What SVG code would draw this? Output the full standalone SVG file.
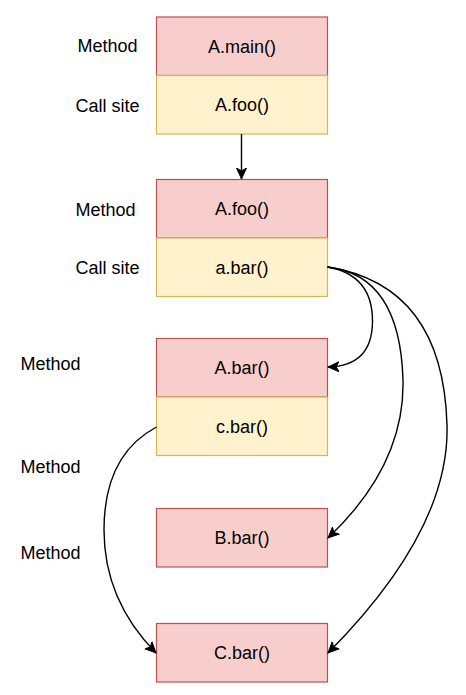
<svg xmlns="http://www.w3.org/2000/svg" width="466" height="695" viewBox="0 0 466 695">
<style>
.m{fill:#f8cecc;stroke:#b85450;stroke-width:1.2}
.c{fill:#fff2cc;stroke:#d6b656;stroke-width:1.2}
text{font-family:"Liberation Sans",Arial,sans-serif;font-size:18px;fill:#000}
.t{text-anchor:middle}
.e{fill:none;stroke:#000;stroke-width:1.4}
</style>
<defs>
<marker id="ah" markerUnits="userSpaceOnUse" markerWidth="12" markerHeight="12" viewBox="0 0 12 12" refX="11" refY="6" orient="auto">
<path d="M0,1 L11,6 L0,11 L3,6 z" fill="#000" stroke="#000" stroke-width="1"/>
</marker>
</defs>
<rect width="466" height="695" fill="#fff"/>
<g id="labels">
<text x="77.5" y="52">Method</text>
<text x="75.5" y="112">Call site</text>
<text x="75.5" y="216">Method</text>
<text x="75.5" y="274">Call site</text>
<text x="20.5" y="370">Method</text>
<text x="20.5" y="473">Method</text>
<text x="20.5" y="559">Method</text>
</g>
<g id="n1">
<rect class="m" x="156.5" y="17" width="171" height="58.5"/>
<text class="t" x="242" y="52.5">A.main()</text>
<rect class="c" x="156.5" y="75.5" width="171" height="58.5"/>
<text class="t" x="242" y="111">A.foo()</text>
</g>
<g id="n2">
<rect class="m" x="156.5" y="179.5" width="171" height="58.5"/>
<text class="t" x="242" y="215">A.foo()</text>
<rect class="c" x="156.5" y="238" width="171" height="58.5"/>
<text class="t" x="242" y="273.5">a.bar()</text>
</g>
<g id="n3">
<rect class="m" x="156.5" y="338.5" width="171" height="58.5"/>
<text class="t" x="242" y="374">A.bar()</text>
<rect class="c" x="156.5" y="397" width="171" height="58.5"/>
<text class="t" x="242" y="432.5">c.bar()</text>
</g>
<g id="n4">
<rect class="m" x="156.5" y="508.5" width="171" height="58.5"/>
<text class="t" x="242" y="544">B.bar()</text>
</g>
<g id="n5">
<rect class="m" x="156.5" y="623.5" width="171" height="58.5"/>
<text class="t" x="242" y="659">C.bar()</text>
</g>
<g id="edges">
<path class="e" d="M241.5,134 L241.5,179" marker-end="url(#ah)"/>
<path class="e" d="M327.5,267 Q373,275 372.5,322 Q372,366 328,367" marker-end="url(#ah)"/>
<path class="e" d="M327.5,267 Q400,275 403,380 Q405,465 328,538" marker-end="url(#ah)"/>
<path class="e" d="M327.5,267 Q443,285 447,425 Q450,530 328,653" marker-end="url(#ah)"/>
<path class="e" d="M156.5,427 Q104,455 104,530 Q104,600 156,653" marker-end="url(#ah)"/>
</g>
</svg>
